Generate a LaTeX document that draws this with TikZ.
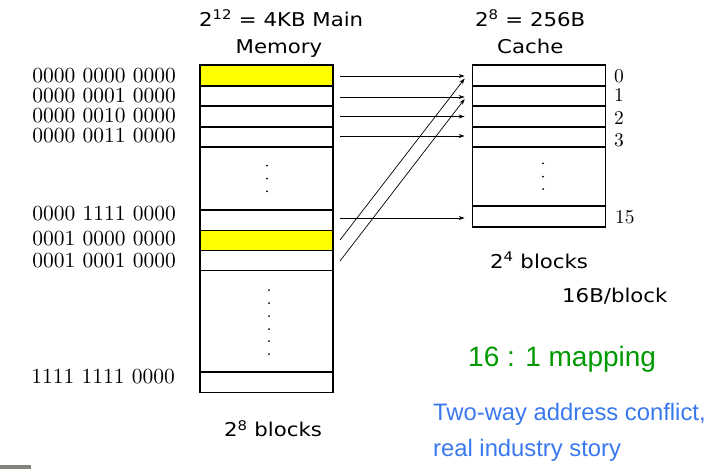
\documentclass[tikz,border=0pt]{standalone}
\usepackage{fontspec}
\usetikzlibrary{arrows.meta}
\newfontfamily\titlefont[FakeStretch=1.12]{DejaVu Sans}
\newfontfamily\arialfont{Liberation Sans}
\newfontfamily\addrfont{lmroman10-regular}[Extension=.otf]
\definecolor{memyellow}{RGB}{255,255,0}
\definecolor{mapgreen}{RGB}{0,153,0}
\definecolor{storyblue}{RGB}{58,120,240}
\definecolor{bargray}{RGB}{128,132,122}
\begin{document}
\begin{tikzpicture}[x=1pt,y=-1pt,
  cell/.style={draw, line width=1.2pt, minimum width=133pt, inner sep=0pt, outer sep=0pt},
  hot/.style={cell, fill=memyellow},
  arr/.style={line width=0.7pt, -{Stealth[length=6pt,width=4pt]}},
  addr/.style={anchor=base east, inner sep=0pt, font=\addrfont\fontsize{21.5}{24}\selectfont},
  idx/.style={anchor=base west, inner sep=0pt, font=\addrfont\fontsize{19.5}{24}\selectfont},
  ttl/.style={inner sep=0pt, font=\titlefont\fontsize{19}{23}\selectfont},
  dot/.style={fill=black, radius=1pt}]
\useasboundingbox (0,0) rectangle (717,469);
% main memory
\node[hot,  minimum height=21pt]    (m0)  at (266.5,75.5) {};
\node[cell, minimum height=20pt]    (m1)  at (266.5,96) {};
\node[cell, minimum height=21pt]    (m2)  at (266.5,116.5) {};
\node[cell, minimum height=20pt]    (m3)  at (266.5,137) {};
\node[cell, minimum height=63pt]    (mg1) at (266.5,178.5) {};
\node[cell, minimum height=20.7pt]  (m15) at (266.5,220.3) {};
\node[hot,  minimum height=19.6pt]  (m16) at (266.5,240.5) {};
\node[cell, minimum height=20.4pt]  (m17) at (266.5,260.5) {};
\node[cell, minimum height=101.3pt] (mg2) at (266.5,321.3) {};
\node[cell, minimum height=20.3pt]  (ml)  at (266.5,382.2) {};
\foreach \y in {165.7,178.7,191.3} \fill[dot] (267,\y) circle;
\foreach \y in {290,303,316,329,341,354} \fill[dot] (269,\y) circle;
% cache
\node[cell, minimum height=21pt] (c0)  at (539.2,75.5) {};
\node[cell, minimum height=20pt] (c1)  at (539.2,96) {};
\node[cell, minimum height=21pt] (c2)  at (539.2,116.5) {};
\node[cell, minimum height=20pt] (c3)  at (539.2,137) {};
\node[cell, minimum height=59pt] (cg)  at (539.2,176.5) {};
\node[cell, minimum height=21pt] (c15) at (539.2,216.5) {};
\foreach \y in {163.3,176.7,189} \fill[dot] (543,\y) circle;
% address labels
\node[addr] (a0)  at (176,82)    {0000 0000 0000};
\node[addr] (a1)  at (176,102)   {0000 0001 0000};
\node[addr] (a2)  at (176,122.3) {0000 0010 0000};
\node[addr] (a3)  at (176,142.3) {0000 0011 0000};
\node[addr] (a15) at (176,220)   {0000 1111 0000};
\node[addr] (a16) at (176,245)   {0001 0000 0000};
\node[addr] (a17) at (176,267.3) {0001 0001 0000};
\node[addr] (al)  at (175,383.3) {1111 1111 0000};
% cache indices
\node[idx] (i0)  at (614,82)    {0};
\node[idx] (i1)  at (614,101.5) {1};
\node[idx] (i2)  at (614,124)   {2};
\node[idx] (i3)  at (614,146)   {3};
\node[idx] (i15) at (615,223)   {15};
% arrows
\draw[arr] ([xshift=7pt,yshift=-0.5pt]m0.east) -- ([xshift=-8pt,yshift=-0.5pt]c0.west);
\draw[arr] ([xshift=7pt,yshift=-1pt]m1.east) -- ([xshift=-8pt,yshift=-1pt]c1.west);
\draw[arr] ([xshift=7pt]m2.east) -- ([xshift=-8pt]c2.west);
\draw[arr] ([xshift=7pt,yshift=1pt]m3.east) -- ([xshift=-8pt,yshift=1pt]c3.west);
\draw[arr] ([xshift=7pt,yshift=2.3pt]m15.east) -- ([xshift=-8pt,yshift=-1.5pt]c15.west);
\draw[arr] ([xshift=7pt,yshift=0.5pt]m16.east) -- ([xshift=-8pt,yshift=-3pt]c0.west);
\draw[arr] ([xshift=7pt,yshift=-0.5pt]m17.east) -- ([xshift=-8pt,yshift=-3pt]c1.west);
% titles
\node[ttl, anchor=base west] (t1) at (199,26) {2\textsuperscript{12} = 4KB Main};
\node[ttl, anchor=base] (t2) at (279,53) {Memory};
\node[ttl, anchor=base west] (t3) at (475,26) {2\textsuperscript{8} = 256B};
\node[ttl, anchor=base west] (t4) at (497,53) {Cache};
\node[ttl, anchor=base west] (b1) at (490,268) {2\textsuperscript{4} blocks};
\node[ttl, anchor=base west] (b2) at (562,302) {16B/block};
\node[ttl, anchor=base west] (b3) at (224,436.7) {2\textsuperscript{8} blocks};
\node[anchor=base west, inner sep=0pt, text=mapgreen, font=\arialfont\fontsize{28}{32}\selectfont] (mp) at (468,366.7) {16 : 1 mapping};
\node[anchor=base west, inner sep=0pt, text=storyblue, font=\arialfont\fontsize{23.8}{28}\selectfont] (s1) at (433,420) {Two-way address conflict,};
\node[anchor=base west, inner sep=0pt, text=storyblue, font=\arialfont\fontsize{23.8}{28}\selectfont] (s2) at (433,456.7) {real industry story};
\fill[bargray] (0,465) rectangle (31,469);
\end{tikzpicture}
\end{document}
